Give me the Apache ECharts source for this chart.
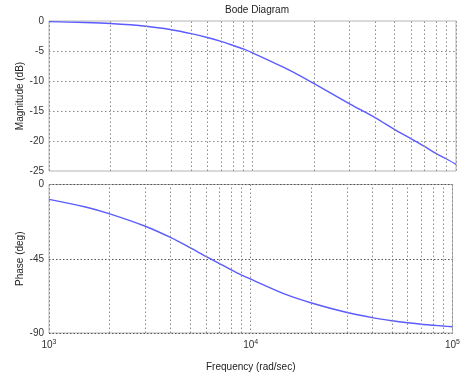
<!DOCTYPE html>
<html>
<head>
<meta charset="utf-8">
<title>Bode Diagram</title>
<script src="https://cdn.jsdelivr.net/npm/echarts@6/dist/echarts.min.js"></script>
<style>
  html, body { margin: 0; padding: 0; background: #fff; }
  #chart { width: 463px; height: 375px; }
</style>
</head>
<body>
<div id="chart"></div>
<script>
// Frequency samples (rad/sec)
const freqs = [1000, 1500, 2000, 3000, 4000, 5000, 6000, 7000, 8000, 9000, 10000,
               15000, 20000, 30000, 40000, 50000, 60000, 70000, 80000, 90000, 100000];
// Magnitude response (dB)
const magnitude = [-0.1, -0.25, -0.42, -0.87, -1.45, -2.1, -2.75, -3.4, -4.05, -4.65, -5.3,
                   -8.1, -10.4, -13.8, -16.1, -18.1, -19.6, -20.9, -22.1, -23.0, -23.9];
// Phase response (deg)
const phase = [-9, -13.5, -17.8, -25.3, -32.1, -38.3, -43.6, -47.9, -51.7, -54.9, -57.4,
               -66.8, -71.8, -77.6, -80.7, -82.6, -83.8, -84.7, -85.3, -85.8, -86.2];
// Minor decade grid positions
const minorFreqs = [2000, 3000, 4000, 5000, 6000, 7000, 8000, 9000,
                    20000, 30000, 40000, 50000, 60000, 70000, 80000, 90000];
const magTicks = [0, -5, -10, -15, -20, -25];
const phaseTicks = [0, -45, -90];

const FONT = 'Liberation Sans, Arial, sans-serif';
const gridLine = { color: '#8a8a8a', type: [1.5, 2.5], width: 1 };
const curveColor = '#5b5bff';

const pair = (xs, ys) => xs.map((x, i) => [x, ys[i]]);

const minorMark = {
  silent: true,
  symbol: 'none',
  label: { show: false },
  lineStyle: { color: '#8a8a8a', type: [1.5, 2.5], width: 1 },
  data: minorFreqs.map(f => ({ xAxis: f }))
};

const xBase = {
  type: 'log',
  logBase: 10,
  min: 1000,
  max: 100000,
  axisLine: { show: false },
  axisTick: { show: false },
  splitLine: { show: true, lineStyle: gridLine }
};

const chart = echarts.init(document.getElementById('chart'), null, { renderer: 'canvas' });
chart.setOption({
  animation: false,
  backgroundColor: '#fff',
  textStyle: { fontFamily: FONT },
  title: {
    text: 'Bode Diagram',
    left: 252, top: 0,
    textAlign: 'center',
    textStyle: { fontSize: 10, fontWeight: 'normal', color: '#222', fontFamily: FONT }
  },
  grid: [
    { left: 49, top: 21, width: 407, height: 150, show: true, borderColor: '#b4b4b4', borderWidth: 1 },
    { left: 49, top: 184.5, width: 407, height: 148.5, show: true, borderColor: '#b4b4b4', borderWidth: 1 }
  ],
  xAxis: [
    Object.assign({}, xBase, { gridIndex: 0, axisLabel: { show: false } }),
    Object.assign({}, xBase, {
      gridIndex: 1,
      name: 'Frequency (rad/sec)',
      nameLocation: 'middle',
      nameGap: 29,
      nameTextStyle: { fontSize: 10, color: '#222', fontFamily: FONT },
      axisLabel: {
        margin: 6,
        color: '#333',
        fontSize: 10,
        fontFamily: FONT,
        formatter: v => '10{s|' + Math.round(Math.log10(v)) + '}',
        rich: { s: { fontSize: 7, verticalAlign: 'top', padding: [0, 0, 6, 0], color: '#333' } }
      }
    })
  ],
  yAxis: [
    {
      gridIndex: 0, type: 'value', min: -25, max: 0, interval: 5,
      name: 'Magnitude (dB)', nameLocation: 'middle', nameGap: 24, nameRotate: 90,
      nameMoveOverlap: false,
      nameTextStyle: { fontSize: 10, color: '#222', fontFamily: FONT },
      axisLine: { show: false }, axisTick: { show: false },
      axisLabel: {
        margin: 5, fontSize: 10, color: '#333', fontFamily: FONT,
        customValues: magTicks
      },
      splitLine: {
        show: true,
        lineStyle: gridLine,
        showMinLine: false, showMaxLine: false
      }
    },
    {
      gridIndex: 1, type: 'value', min: -90, max: 0, interval: 45,
      name: 'Phase (deg)', nameLocation: 'middle', nameGap: 24, nameRotate: 90,
      nameMoveOverlap: false,
      nameTextStyle: { fontSize: 10, color: '#222', fontFamily: FONT },
      axisLine: { show: false }, axisTick: { show: false },
      axisLabel: {
        margin: 5, fontSize: 10, color: '#333', fontFamily: FONT,
        customValues: phaseTicks
      },
      splitLine: { show: true, lineStyle: { color: '#555', type: [1.5, 2], width: 1 } }
    }
  ],
  series: [
    {
      type: 'line', xAxisIndex: 0, yAxisIndex: 0,
      data: pair(freqs, magnitude),
      smooth: 0.3, showSymbol: false, silent: true,
      lineStyle: { color: curveColor, width: 1.4 },
      markLine: minorMark
    },
    {
      type: 'line', xAxisIndex: 1, yAxisIndex: 1,
      data: pair(freqs, phase),
      smooth: 0.3, showSymbol: false, silent: true,
      lineStyle: { color: curveColor, width: 1.4 },
      markLine: minorMark
    }
  ]
});
</script>
</body>
</html>
